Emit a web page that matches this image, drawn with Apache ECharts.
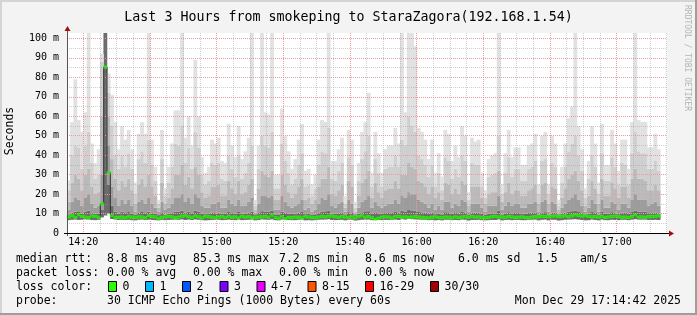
<!DOCTYPE html>
<html><head><meta charset="utf-8">
<script src="https://cdn.jsdelivr.net/npm/echarts@6/dist/echarts.min.js"></script>
<style>html,body{margin:0;padding:0;background:#f3f3f3;}#c{width:697px;height:315px;}</style>
</head><body><div id="c"></div>
<script>
// ---- data (ms), one value per 60 s step ----
const slotCount = 180;
const maxMs = [
27,57,79,58,52,62,103,46,36,43,92,103,82,71,57,43,55,48,53,43,26,51,57,51,103,48,34,17,53,23,34,46,63,63,103,49,60,45,89,60,39,31,34,48,46,
49,37,36,56,45,39,55,38,42,49,103,17,45,103,62,61,103,30,30,64,50,42,33,38,48,56,32,33,25,30,48,58,57,103,37,37,43,49,19,53,48,16,36,52,57,
72,31,52,41,31,43,45,45,54,46,103,62,103,103,96,54,52,48,38,48,31,41,29,53,51,37,45,39,55,50,21,49,47,48,31,22,38,40,41,103,25,41,53,39,44,
44,35,35,45,46,51,25,50,52,25,50,46,17,34,46,59,65,103,55,43,23,37,55,46,26,56,35,35,53,46,32,48,48,33,57,103,58,57,57,44,44,51,43];
const q1Ms = [
22,40,45,44,33,45,52,36,28,30,88,103,72,55,40,33,40,34,41,33,20,38,42,36,48,35,27,15,38,19,26,34,46,45,55,36,44,33,52,44,30,25,27,36,35,
36,28,27,40,33,29,40,28,31,36,45,14,33,50,45,44,52,23,23,46,37,31,25,28,35,41,24,25,19,23,35,42,41,54,28,27,32,36,15,39,35,13,27,38,42,
50,24,38,31,24,33,34,34,40,34,48,45,60,55,52,40,38,35,29,35,24,31,22,39,37,28,33,29,40,37,17,36,35,35,24,18,29,30,31,50,20,31,39,29,33,
33,27,27,33,34,37,20,37,38,20,36,34,14,26,34,42,46,50,40,32,18,28,40,34,20,41,27,27,39,34,25,36,35,25,41,52,42,41,41,33,33,37,32];
const q2Ms = [
16,26,30,28,22,30,33,24,20,21,60,103,60,38,28,22,27,24,28,22,15,25,28,24,30,24,19,13,26,15,18,23,30,30,35,25,29,23,34,30,21,18,19,24,24,
25,19,19,27,23,20,27,20,21,25,28,12,23,32,30,29,32,17,17,30,25,21,18,20,24,28,17,18,15,17,24,28,28,34,20,19,22,25,13,27,24,11,19,26,28,
32,18,26,21,18,22,23,23,27,23,30,30,36,34,33,27,26,24,20,24,18,21,17,26,25,20,23,20,27,25,14,24,24,24,18,15,20,21,21,32,16,21,26,20,22,
22,19,19,22,23,25,15,25,26,15,24,23,12,18,23,28,30,32,27,22,14,19,27,23,15,28,19,19,26,23,18,24,24,18,28,33,28,28,27,22,22,25,22];
const q3Ms = [
12,16,18,17,14,18,20,15,13,14,30,103,45,24,18,14,17,15,17,14,11,16,17,15,18,15,13,11,16,12,13,15,18,18,20,16,18,15,20,18,14,13,13,15,15,
16,13,13,17,15,14,17,14,14,16,18,10.5,15,19,19,18,19,12,12,19,16,14,13,14,15,17,12,13,11,12,15,18,17,20,14,13,15,16,11,17,15,10,13,16,17,
19,13,16,14,13,14,15,15,17,15,19,18,21,20,20,17,16,15,13,15,12,14,12,16,16,13,15,14,17,16,11,15,15,15,13,11,14,14,14,19,12,14,16,14,15,
15,13,13,15,15,16,11,16,17,11,16,15,10,13,15,17,18,20,17,14,11,13,17,15,11,17,13,13,16,15,12,15,15,13,17,20,17,17,17,14,15,16,14];
const q4Ms = [
9.6,10.5,11,10.8,10,11,11.5,10.2,9.8,10,12,103,25,14,11,10,11,10.3,10.8,10,9.4,10.5,10.8,10.2,11,10.2,9.8,9.2,10.6,9.4,9.8,10.2,11,11,11.5,10.4,11,10.2,11.5,11,10,9.7,9.8,10.4,10.3,
10.4,9.8,9.8,10.8,10.2,10,10.8,9.9,10,10.4,11,9.2,10.2,11.2,11,11,11.5,9.6,9.6,11,10.5,10,9.8,10,10.4,10.8,9.7,9.8,9.5,9.6,10.4,10.9,10.8,11.4,9.9,9.8,10.1,10.4,9.2,10.7,10.3,9.1,9.9,10.6,10.8,
11.2,9.8,10.6,10.1,9.8,10.2,10.3,10.3,10.8,10.4,11.5,11,11.8,11.6,11.5,10.8,10.6,10.4,10,10.4,9.7,10.1,9.6,10.7,10.6,9.9,10.3,10,10.8,10.5,9.3,10.4,10.4,10.4,9.8,9.4,10,10.1,10.1,11.4,9.5,10.1,10.7,10,10.3,
10.3,9.9,9.9,10.3,10.4,10.6,9.4,10.5,10.7,9.4,10.5,10.4,9.1,9.8,10.4,10.9,11.2,11.5,10.8,10.2,9.3,9.9,10.8,10.3,9.4,10.9,9.9,9.9,10.7,10.4,9.7,10.4,10.4,9.8,10.9,11.5,11,10.9,10.9,10.2,10.2,10.5,10.1];
const minMs = [
6.6,6.8,6.9,6.7,6.8,7.0,6.9,6.7,6.6,6.8,8,9,10,7.2,6.9,6.7,6.8,6.7,6.8,6.6,6.5,6.8,6.9,6.7,6.8,6.7,6.6,6.5,6.8,6.6,6.7,6.8,6.9,6.8,7.0,6.7,6.9,6.7,7.0,6.8,6.6,6.5,6.6,6.7,6.8,
6.8,6.6,6.7,6.9,6.7,6.6,6.9,6.6,6.7,6.8,6.9,6.5,6.7,7.0,6.9,6.8,7.0,6.6,6.5,6.9,6.8,6.7,6.6,6.6,6.8,6.9,6.5,6.6,6.5,6.6,6.8,6.9,6.9,7.1,6.7,6.6,6.7,6.8,6.5,6.8,6.8,6.4,6.6,6.8,6.9,
6.9,6.6,6.8,6.7,6.6,6.7,6.7,6.8,6.9,6.7,7.1,6.9,7.2,7.1,7.0,6.9,6.8,6.8,6.6,6.7,6.5,6.7,6.5,6.8,6.8,6.6,6.7,6.6,6.9,6.8,6.4,6.7,6.7,6.8,6.6,6.5,6.6,6.7,6.7,7.0,6.5,6.7,6.8,6.6,6.7,
6.7,6.6,6.6,6.8,6.8,6.9,6.5,6.8,6.9,6.5,6.8,6.8,6.4,6.6,6.8,6.9,7.0,7.1,6.9,6.7,6.5,6.6,6.9,6.7,6.5,6.9,6.6,6.6,6.8,6.7,6.6,6.8,6.8,6.6,6.9,7.1,6.9,6.9,6.9,6.7,6.7,6.8,6.7];
const medianMs = [
8.3,8.9,8.1,9.4,8.6,8.2,7.9,8.7,8.6,8.1,15,85.3,31,9.1,8.0,8.0,8.2,7.9,8.4,8.1,8.0,8.3,8.2,7.9,8.8,8.5,8.3,7.6,8.1,8.2,8.5,8.3,7.9,8.1,8.6,8.9,8.4,8.0,8.7,8.3,7.8,8.5,8.4,8.1,7.9,
8.2,8.4,8.0,8.6,8.1,8.3,7.8,8.5,8.2,8.4,8.0,7.9,8.2,8.3,8.5,8.1,9.2,8.0,7.6,8.3,7.4,8.0,7.9,8.2,8.1,7.8,8.4,8.3,8.0,7.9,8.2,8.5,8.3,8.6,8.8,8.4,8.1,8.5,8.2,8.0,8.3,7.8,8.4,8.9,8.2,
8.4,7.9,7.2,7.6,8.1,8.3,8.2,7.8,8.4,8.5,8.1,8.3,8.0,8.2,8.4,8.2,8.0,7.9,7.8,8.1,8.3,8.0,7.9,8.2,8.1,7.8,8.3,8.0,8.2,8.4,8.1,8.5,8.2,8.3,8.0,7.9,8.0,8.4,8.6,8.3,8.2,8.1,8.5,8.3,8.0,
8.1,8.3,8.0,7.9,8.2,8.4,8.3,8.6,8.5,8.4,8.7,8.8,8.5,8.6,8.9,8.4,8.8,9.3,9.0,8.7,8.9,8.6,8.3,8.4,8.2,8.6,8.0,8.3,8.5,8.7,8.4,8.1,8.2,8.0,8.5,9.3,8.3,8.2,8.1,8.4,8.5,8.6,8.8];

// time axis: minutes after 14:00
const axisStartMin = 15.1, axisEndMin = 195.1;
const tickLabels = ['14:20','14:40','15:00','15:20','15:40','16:00','16:20','16:40','17:00'];
const firstTickMin = 20, tickStepMin = 20;
const yMaxMs = 102.8;

const titleText = 'Last 3 Hours from smokeping to StaraZagora(192.168.1.54)';
const rttStats = ['8.8 ms avg','85.3 ms max','7.2 ms min','8.6 ms now','6.0 ms sd','1.5','am/s'];
const lossStats = ['0.00 % avg','0.00 % max','0.00 % min','0.00 % now'];
const lossBins = ['0','1','2','3','4-7','8-15','16-29','30/30'];
const lossColors = ['#26ff00','#00b8ff','#0059ff','#7e00ff','#e800ff','#ff5500','#ff0000','#a10000'];
const probeText = '30 ICMP Echo Pings (1000 Bytes) every 60s';
const dateText = 'Mon Dec 29 17:14:42 2025';

// ---- layout / style ----
const MONO = '"DejaVu Sans Mono", monospace';
const G = {left:67, top:33, width:600, height:200};
const statCols = [107,193,279,365,458,537,580];
const swatchX = [108,145,182,219.5,256.5,307.5,365,430];
const rowY = [259,273,287,301];

const chart = echarts.init(document.getElementById('c'), null, {renderer:'canvas', width:697, height:315});
const slots = Array.from({length: slotCount}, (_, i) => i);

const layers = [
  [null,  minMs, 'rgba(0,0,0,0)'],
  [minMs, q4Ms,  '#6c6c6c'],
  [q4Ms,  q3Ms,  '#9c9c9c'],
  [q3Ms,  q2Ms,  '#bababa'],
  [q2Ms,  q1Ms,  '#cfcfcf'],
  [q1Ms,  maxMs, '#e1e1e1']
];
const smokeSeries = layers.map(([lo, hi, color]) => ({
  type:'bar', stack:'smoke', xAxisIndex:0, yAxisIndex:0,
  data: hi.map((v, i) => lo ? Math.max(0, v - lo[i]) : v),
  itemStyle:{color}, barWidth:3.8, barGap:'-100%',
  silent:true, z:2, clip:true, animation:false
}));

const txt = (text, x, y, extra) => ({type:'text', z:20, style:Object.assign({text, x, y, font:'11.5px ' + MONO, fill:'#000', verticalAlign:'middle', align:'left'}, extra || {})});
const graphics = [];
// frame
graphics.push({type:'rect', z:1, shape:{x:0,y:0,width:697,height:2}, style:{fill:'#d4d4d4'}});
graphics.push({type:'rect', z:1, shape:{x:0,y:0,width:2,height:315}, style:{fill:'#d4d4d4'}});
graphics.push({type:'rect', z:1, shape:{x:695,y:0,width:2,height:315}, style:{fill:'#9e9e9e'}});
graphics.push({type:'rect', z:1, shape:{x:0,y:313,width:697,height:2}, style:{fill:'#9e9e9e'}});
// axes lines and arrows
const x0 = G.left, yb = G.top + G.height;
graphics.push({type:'line', z:15, shape:{x1:x0+0.5, y1:G.top-3, x2:x0+0.5, y2:yb+3}, style:{stroke:'#555', lineWidth:1}});
graphics.push({type:'line', z:15, shape:{x1:x0-3, y1:yb+0.5, x2:G.left+G.width+2, y2:yb+0.5}, style:{stroke:'#000', lineWidth:1}});
graphics.push({type:'polygon', z:16, shape:{points:[[x0-2.5,G.top-2],[x0+3.5,G.top-2],[x0+0.5,G.top-7]]}, style:{fill:'#a01010'}});
graphics.push({type:'polygon', z:16, shape:{points:[[G.left+G.width+2,yb-2.5],[G.left+G.width+2,yb+3.5],[G.left+G.width+7,yb+0.5]]}, style:{fill:'#a01010'}});
// y name
graphics.push({type:'text', z:20, x:10, y:131, rotation:Math.PI/2, style:{text:'Seconds', x:0, y:0, font:'11.5px ' + MONO, fill:'#000', align:'center', verticalAlign:'middle'}});
// watermark
graphics.push({type:'text', z:20, x:687, y:5, rotation:-Math.PI/2, style:{text:'RRDTOOL / TOBI OETIKER', x:0, y:0, font:'8px ' + MONO, fill:'#b4b4b4', align:'left', verticalAlign:'middle'}});
// legend rows
graphics.push(txt('median rtt:', 16, rowY[0]));
rttStats.forEach((s, i) => graphics.push(txt(s, statCols[i], rowY[0])));
graphics.push(txt('packet loss:', 16, rowY[1]));
lossStats.forEach((s, i) => graphics.push(txt(s, statCols[i], rowY[1])));
graphics.push(txt('loss color:', 16, rowY[2]));
lossBins.forEach((b, i) => {
  graphics.push({type:'rect', z:20, shape:{x:swatchX[i]+0.5, y:rowY[2]-5.5, width:8, height:10}, style:{fill:lossColors[i], stroke:'#000', lineWidth:1}});
  graphics.push(txt(b, swatchX[i]+14.6, rowY[2]));
});
graphics.push(txt('probe:', 16, rowY[3]));
graphics.push(txt(probeText, 107, rowY[3]));
graphics.push(txt(dateText, 681, rowY[3], {align:'right'}));

const option = {
  animation:false,
  backgroundColor:'#f3f3f3',
  title:{text:titleText, left:'center', top:5, textStyle:{fontFamily:MONO, fontSize:13.3, fontWeight:'normal', color:'#000', lineHeight:16}},
  grid:{left:G.left, top:G.top, width:G.width, height:G.height, show:true, backgroundColor:'#fff', borderWidth:0, containLabel:false, outerBoundsMode:'none'},
  xAxis:[
    {type:'category', data:slots, boundaryGap:true, show:false, position:'bottom'},
    {type:'value', min:axisStartMin, max:axisEndMin, splitNumber:36, position:'bottom', z:3,
     axisLine:{show:false}, axisTick:{show:false}, axisLabel:{show:false},
     splitLine:{show:true, showMinLine:false, showMaxLine:false, lineStyle:{color:'rgba(150,150,150,0.45)', width:1, type:[1,1]}}},
    {type:'value', min:axisStartMin, max:axisEndMin, splitNumber:9, position:'bottom', z:3,
     axisLine:{show:false}, axisTick:{show:false},
     axisLabel:{show:true, showMinLabel:false, showMaxLabel:false, margin:4, fontFamily:MONO, fontSize:10, color:'#000',
       formatter:v => { const k = Math.round((v - firstTickMin) / tickStepMin); return tickLabels[k] || ''; }},
     splitLine:{show:true, showMinLine:false, showMaxLine:false, lineStyle:{color:'#eb9c9c', width:1, type:[1,1]}}}
  ],
  yAxis:[
    {type:'value', min:0, max:yMaxMs, interval:5, position:'left', z:3,
     axisLine:{show:false}, axisTick:{show:false}, axisLabel:{show:false},
     splitLine:{show:true, showMinLine:false, showMaxLine:false, lineStyle:{color:'rgba(150,150,150,0.45)', width:1, type:[1,1]}}},
    {type:'value', min:0, max:yMaxMs, interval:10, position:'left', z:3,
     axisLine:{show:false}, axisTick:{show:false},
     axisLabel:{show:true, showMaxLabel:false, margin:8, fontFamily:MONO, fontSize:10, color:'#000',
       formatter:v => v === 0 ? '0' : Math.round(v) + ' m'},
     splitLine:{show:true, showMinLine:false, showMaxLine:false, lineStyle:{color:'#eb9c9c', width:1, type:[1,1]}}}
  ],
  series: smokeSeries.concat([
    {type:'line', xAxisIndex:0, yAxisIndex:0, data:medianMs, step:'middle', symbol:'none', silent:true, z:5,
     lineStyle:{color:'#303030', width:1}},
    {type:'scatter', xAxisIndex:0, yAxisIndex:0, data:medianMs, symbol:'rect', symbolSize:[3.8,3.2], silent:true, z:6,
     itemStyle:{color:'#22ff00'}}
  ]),
  graphic:graphics
};
chart.setOption(option);
</script></body></html>
